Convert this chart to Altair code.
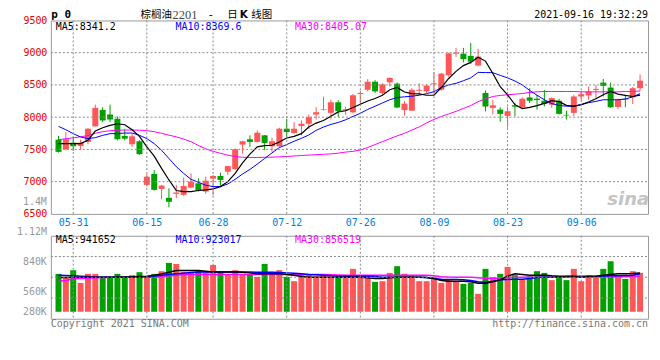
import altair as alt
import pandas as pd

# ---------------- data ----------------
opens = [7651, 7503, 7605, 7554, 7616, 7857, 8113, 8041, 7975, 7708,
         7580, 7626, 6949, 7118, 6887, 6749, 6810, 6795, 6908, 6974,
         6846, 7046, 7087, 7154, 7195, 7575, 7657, 7616, 7718, 7549,
         7549, 7821, 7754, 7862, 7898, 8041, 8113, 8067, 8231, 8103,
         8075, 8360, 8425, 8550, 8375, 8540, 8520, 8110, 8100, 8410,
         8400, 8510, 8425, 8650, 8985, 8985, 8950, 8800, 8375, 8143,
         8117, 8020, 8184, 8153, 8306, 8286, 8255, 8194, 8255, 8036,
         8066, 8321, 8337, 8423, 8536, 8459, 8158, 8286, 8306, 8449]
highs = [7708, 7770, 7693, 7651, 7831, 8195, 8154, 8195, 8011, 7821,
         7744, 7641, 7118, 7180, 6949, 6897, 6949, 7062, 7128, 7051,
         7077, 7103, 7139, 7246, 7513, 7631, 7718, 7795, 7723, 7682,
         7836, 7975, 7923, 7949, 8041, 8154, 8318, 8272, 8262, 8164,
         8360, 8410, 8590, 8575, 8525, 8615, 8540, 8250, 8450, 8525,
         8510, 8700, 8685, 9000, 9075, 9075, 9150, 9060, 8415, 8270,
         8153, 8163, 8219, 8306, 8449, 8347, 8423, 8306, 8286, 8102,
         8347, 8408, 8474, 8500, 8592, 8536, 8286, 8347, 8469, 8663]
lows = [7451, 7487, 7477, 7487, 7580, 7857, 7923, 7923, 7641, 7641,
        7539, 7415, 6923, 6862, 6728, 6600, 6744, 6780, 6897, 6846,
        6810, 6785, 6938, 7103, 7180, 7436, 7539, 7605, 7487, 7462,
        7539, 7693, 7744, 7718, 7821, 7964, 8103, 7964, 8005, 8036,
        8060, 8200, 8400, 8375, 8350, 8475, 8140, 8025, 8100, 8350,
        8375, 8375, 8410, 8625, 8935, 8850, 8825, 8790, 8090, 8041,
        7929, 7837, 8015, 8143, 8219, 8117, 8168, 8143, 8041, 7964,
        8015, 8255, 8270, 8286, 8321, 8143, 8128, 8153, 8204, 8408]
closes = [7462, 7657, 7549, 7605, 7821, 8144, 7949, 7964, 7657, 7667,
          7703, 7426, 7077, 6872, 6938, 6687, 6831, 6933, 7000, 6862,
          7015, 7087, 7026, 7241, 7503, 7626, 7616, 7759, 7600, 7626,
          7821, 7770, 7821, 7898, 8000, 8077, 8123, 8231, 8093, 8123,
          8340, 8375, 8550, 8400, 8510, 8610, 8150, 8210, 8425, 8425,
          8490, 8525, 8675, 8990, 9000, 8900, 8860, 8940, 8165, 8184,
          8051, 8092, 8163, 8286, 8255, 8265, 8204, 8296, 8051, 8026,
          8321, 8357, 8398, 8439, 8485, 8153, 8270, 8275, 8449, 8566]
ma5 = [7590, 7590, 7590, 7590, 7641, 7785, 7836, 7872, 7898, 7882,
       7805, 7703, 7539, 7395, 7205, 7026, 6862, 6846, 6846, 6862,
       6872, 6887, 6923, 7000, 7128, 7292, 7426, 7539, 7559, 7564,
       7616, 7677, 7703, 7744, 7847, 7908, 7949, 8015, 8081, 8100,
       8150, 8200, 8250, 8290, 8340, 8425, 8460, 8390, 8365, 8360,
       8340, 8340, 8460, 8600, 8710, 8800, 8850, 8930, 8870, 8678,
       8474, 8347, 8194, 8133, 8153, 8179, 8214, 8255, 8240, 8184,
       8168, 8194, 8235, 8286, 8347, 8398, 8357, 8337, 8321, 8341]
ma10 = [7857, 7805, 7744, 7693, 7667, 7682, 7718, 7744, 7744, 7754,
        7754, 7718, 7667, 7590, 7487, 7359, 7231, 7128, 7036, 6990,
        6944, 6923, 6923, 6964, 7036, 7118, 7190, 7272, 7359, 7446,
        7528, 7575, 7626, 7672, 7723, 7795, 7847, 7887, 7918, 7959,
        8010, 8060, 8120, 8170, 8220, 8270, 8305, 8315, 8325, 8340,
        8365, 8395, 8460, 8500, 8525, 8565, 8610, 8695, 8692, 8690,
        8648, 8610, 8561, 8500, 8415, 8340, 8270, 8210, 8182, 8170,
        8173, 8194, 8224, 8245, 8270, 8270, 8270, 8281, 8315, 8365]
ma30 = [7650, 7665, 7680, 7695, 7715, 7750, 7775, 7790, 7798, 7800,
        7800, 7798, 7790, 7775, 7750, 7720, 7695, 7660, 7620, 7560,
        7510, 7470, 7440, 7410, 7390, 7378, 7375, 7375, 7377, 7380,
        7385, 7390, 7398, 7405, 7412, 7418, 7424, 7430, 7442, 7458,
        7470, 7490, 7530, 7575, 7620, 7665, 7710, 7750, 7800, 7850,
        7910, 7965, 8010, 8050, 8090, 8135, 8180, 8240, 8285, 8321,
        8337, 8347, 8357, 8367, 8383, 8393, 8398, 8398, 8398, 8398,
        8398, 8393, 8393, 8393, 8393, 8393, 8393, 8398, 8400, 8405]
# volumes in thousands of lots
volumes = [918, 821, 1007, 700, 918, 918, 821, 821, 918, 838,
           886, 959, 838, 918, 983, 1183, 1159, 966, 959, 983,
           959, 1135, 966, 903, 1007, 918, 903, 845, 1159, 966,
           1007, 845, 741, 903, 903, 862, 886, 838, 821, 821,
           1039, 838, 838, 725, 741, 942, 1104, 918, 886, 741,
           741, 838, 700, 782, 741, 676, 700, 435, 1039, 838,
           918, 1087, 886, 782, 862, 983, 942, 766, 838, 766,
           1039, 741, 886, 838, 1039, 1224, 838, 797, 983, 942]
vol_ma5 = [830, 830, 835, 835, 835, 838, 838, 838, 840, 845,
           850, 855, 862, 886, 918, 958, 998, 998, 998, 998,
           983, 966, 966, 966, 966, 958, 942, 918, 918, 918,
           918, 903, 886, 854, 838, 838, 838, 838, 838, 838,
           838, 838, 821, 805, 805, 821, 838, 838, 838, 838,
           830, 805, 757, 741, 741, 741, 725, 692, 692, 725,
           774, 862, 918, 903, 886, 886, 886, 870, 862, 862,
           854, 838, 854, 862, 886, 903, 918, 918, 925, 942]
vol_ma10 = [886, 880, 870, 862, 855, 845, 840, 838, 838, 838,
            838, 838, 845, 862, 886, 903, 918, 934, 950, 966,
            966, 966, 966, 966, 966, 966, 962, 958, 958, 955,
            950, 942, 935, 918, 903, 895, 886, 870, 862, 862,
            862, 862, 862, 854, 838, 838, 838, 838, 838, 838,
            830, 805, 790, 782, 782, 774, 757, 725, 709, 741,
            774, 782, 790, 790, 805, 830, 838, 838, 838, 854,
            862, 862, 862, 862, 862, 870, 870, 878, 886, 923]
vol_ma30 = [741, 757, 797, 805, 813, 821, 830, 838, 838, 838,
            838, 838, 838, 838, 854, 870, 886, 895, 903, 903,
            903, 903, 903, 903, 903, 903, 903, 903, 903, 903,
            903, 903, 903, 903, 903, 903, 903, 895, 890, 886,
            886, 886, 886, 886, 886, 886, 886, 886, 886, 886,
            886, 870, 850, 840, 838, 838, 835, 825, 810, 805,
            815, 830, 838, 838, 838, 838, 838, 838, 838, 838,
            838, 838, 838, 840, 845, 848, 850, 852, 855, 857]

tick_idx = [2, 12, 21, 31, 41, 51, 61, 71]
tick_labels = ["05-31", "06-15", "06-28", "07-12", "07-26", "08-09", "08-23", "09-06"]
price_ticks = [6500, 7000, 7500, 8000, 8500, 9000, 9500]
vol_axis_labels = ["1.12M", "840K", "560K", "280K"]

# ---------------- styling / layout ----------------
RED = "#ff5757"
GREEN = "#00a000"
GRID = "#8a8a8a"
DASH = [2, 2]
MONO = "DejaVu Sans Mono"
CJK = "Noto Sans CJK SC"
W, H1, H2, GAP = 599, 194, 83.2, 22

n = len(closes)
df = pd.DataFrame({
    "k": list(range(n)),
    "open": opens, "high": highs, "low": lows, "close": closes,
    "ma5": ma5, "ma10": ma10, "ma30": ma30,
    "vol": [v * 1000 for v in volumes],
    "vma5": [v * 1000 for v in vol_ma5],
    "vma10": [v * 1000 for v in vol_ma10],
    "vma30": [v * 1000 for v in vol_ma30],
})
df["dir"] = ["up" if c >= o else "down" for o, c in zip(opens, closes)]
df["body_lo"] = df[["open", "close"]].min(axis=1)
df["body_hi"] = df[["open", "close"]].max(axis=1)
df["zero"] = 0

x_scale = alt.Scale(domain=[-0.36, 79.4], nice=False, zero=False)
p_scale = alt.Scale(domain=[6500, 9500], nice=False, zero=False)
v_per_px = 24150
v_top = 76.2 * v_per_px
v_bot = -(H2 - 76.2) * v_per_px
v_scale = alt.Scale(domain=[v_bot, v_top], nice=False, zero=False)
v_grid = [v_top - (v_top - v_bot) * f for f in (0.25, 0.5, 0.75)]

color = alt.Color("dir:N", scale=alt.Scale(domain=["up", "down"], range=[RED, GREEN]), legend=None)

label_expr = ("[" + ",".join("'%s'" % s for s in tick_labels) + "][indexof(["
              + ",".join(str(i) for i in tick_idx) + "], datum.value)]")

ax_kw = dict(grid=False, ticks=False, domain=False, title=None)
x_axis_main = alt.Axis(values=tick_idx, labelExpr=label_expr, labelColor="#0080e0", labelFont=MONO,
                       labelFontSize=10, labelPadding=4, labelFlush=False, **ax_kw)
y_axis_main = alt.Axis(values=price_ticks, format="d", labelColor="#e80000", labelFont=MONO,
                       labelFontSize=10, labelPadding=4, **ax_kw)
x_axis_vol = alt.Axis(values=tick_idx, labels=False, **ax_kw)
y_axis_vol = alt.Axis(values=v_grid, labels=False, **ax_kw)

one = pd.DataFrame({"z": [0]})


def note(s, x, y, col="#000000", size=10, align="left", font=MONO, weight="normal", style="normal"):
    return alt.Chart(one).mark_text(
        text=s, align=align, baseline="middle", color=col, fontSize=size, font=font,
        fontWeight=weight, fontStyle=style
    ).encode(x=alt.value(x), y=alt.value(y))


base = alt.Chart(df)


def X(ax, field="k:Q"):
    return alt.X(field, scale=x_scale, axis=ax)


# dotted grid lines, drawn as rules through the x / y scales, spanning the plot
vgrid_df = pd.DataFrame({"k": tick_idx})
pgrid_df = pd.DataFrame({"p": [p for p in price_ticks if 6500 < p < 9500]})
volgrid_df = pd.DataFrame({"v": v_grid})


def vgrid(xax, h):
    return alt.Chart(vgrid_df).mark_rule(stroke=GRID, strokeWidth=1, strokeDash=DASH).encode(
        x=X(xax), y=alt.value(0), y2=alt.value(h))


def hgrid(d, field, sc, yax):
    return alt.Chart(d).mark_rule(stroke=GRID, strokeWidth=1, strokeDash=DASH).encode(
        y=alt.Y(field, scale=sc, axis=yax), x=alt.value(0), x2=alt.value(W))


wicks = base.mark_rule(strokeWidth=1).encode(
    x=X(x_axis_main),
    y=alt.Y("low:Q", scale=p_scale, axis=y_axis_main),
    y2="high:Q", color=color)
bodies = base.mark_bar(size=6, orient="vertical").encode(
    x=X(x_axis_main),
    y=alt.Y("body_lo:Q", scale=p_scale, axis=y_axis_main),
    y2="body_hi:Q", color=color)


def pline(col, c, w, sc, xax, yax):
    return base.mark_line(color=c, strokeWidth=w).encode(
        x=X(xax), y=alt.Y(col + ":Q", scale=sc, axis=yax))


TY = -5
main = alt.layer(
    wicks, bodies,
    pline("ma30", "#ff00ff", 1, p_scale, x_axis_main, y_axis_main),
    pline("ma10", "#0000ff", 1, p_scale, x_axis_main, y_axis_main),
    pline("ma5", "#000000", 1.2, p_scale, x_axis_main, y_axis_main),
    vgrid(x_axis_main, H1), hgrid(pgrid_df, "p:Q", p_scale, y_axis_main),
    note("MA5:8341.2", 5, 6.5),
    note("MA10:8369.6", 125, 6.5, "#0000ff"),
    note("MA30:8405.07", 245, 6.5, "#ff00ff"),
    note("p 0", 0.5, TY, size=11, weight="bold"),
    note("棕榈油", 90, TY, size=10.5, font=CJK),
    note("2201", 122, TY, "#444444", size=12.5, font="Liberation Serif"),
    note("-", 160.5, TY, size=11, align="center"),
    note("日", 177, TY, size=10.5, font=CJK),
    note("K", 189.5, TY, size=10.5, font="DejaVu Sans", weight="bold"),
    note("线图", 201, TY, size=10.5, font=CJK),
    note("2021-09-16 19:32:29", 599, TY, align="right"),
    note("1.4M", -4, 182.5, "#999999", align="right"),
    note("sina", 600, 180.5, "#c4c4c4", size=18, align="right", font="DejaVu Sans",
         weight="bold", style="italic"),
).properties(width=W, height=H1)

vbars = base.mark_bar(size=6, orient="vertical").encode(
    x=X(x_axis_vol),
    y=alt.Y("vol:Q", scale=v_scale, axis=y_axis_vol),
    y2="zero:Q", color=color)

vol_label_y = [-3.5, 26.5, 56.5, 76.5]
vol = alt.layer(
    vbars,
    pline("vma30", "#ff00ff", 1.5, v_scale, x_axis_vol, y_axis_vol),
    pline("vma10", "#0000ff", 1.5, v_scale, x_axis_vol, y_axis_vol),
    pline("vma5", "#000000", 1.5, v_scale, x_axis_vol, y_axis_vol),
    vgrid(x_axis_vol, H2), hgrid(volgrid_df, "v:Q", v_scale, y_axis_vol),
    note("MA5:941652", 5, 3.8),
    note("MA10:923017", 125, 3.8, "#0000ff"),
    note("MA30:856519", 245, 3.8, "#ff00ff"),
    *[note(t, -4, yy, "#999999", align="right") for t, yy in zip(vol_axis_labels, vol_label_y)],
    note("Copyright 2021 SINA.COM", 0, 88.8, "#777777"),
    note("http://finance.sina.com.cn", 599, 88.8, "#777777", align="right"),
).properties(width=W, height=H2)

chart = alt.vconcat(main, vol, spacing=GAP, bounds="flush").properties(
    padding={"left": 8, "top": 0, "right": 2, "bottom": 2},
    background="white",
).configure_view(stroke="#999999", strokeWidth=1)

chart.save("out.html", embed_options={"renderer": "svg", "actions": False})
